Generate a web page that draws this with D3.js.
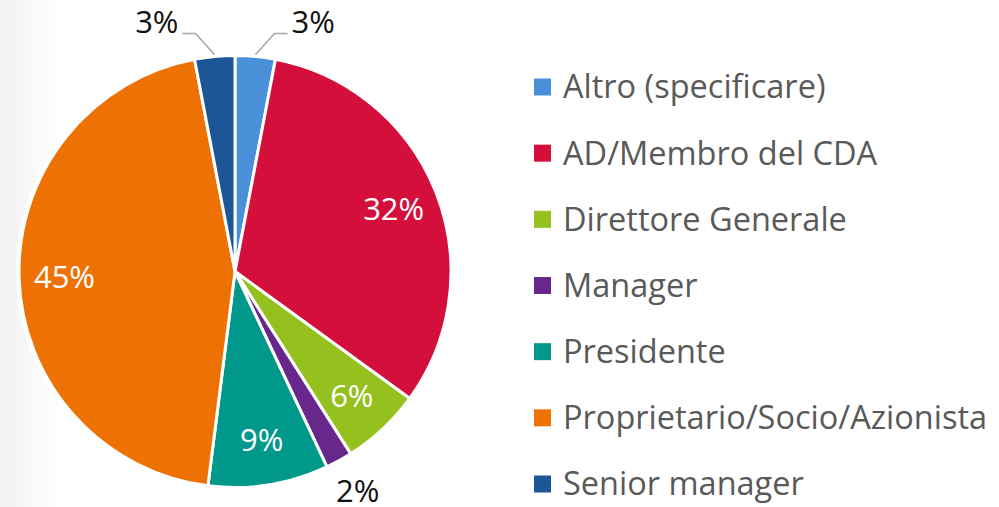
<!DOCTYPE html>
<html>
<head>
<meta charset="utf-8">
<script src="https://cdn.jsdelivr.net/npm/d3@7"></script>
<style>
  body { margin: 0; background: #fff; }
  svg { display: block; }
</style>
</head>
<body>
<div id="chart"></div>
<script>
// data
let categories = ["Altro (specificare)", "AD/Membro del CDA", "Direttore Generale",
                  "Manager", "Presidente", "Proprietario/Socio/Azionista", "Senior manager"];
let values = [3, 32, 6, 2, 9, 45, 3];
let colors = ["#4a90d9", "#d40f3c", "#95c11f", "#68278a", "#00988a", "#ee7203", "#1d5697"];

let width = 999, height = 507;
let cx = 235, cy = 271.5, radius = 216;
let fontFam = "'Open Sans', 'Noto Sans', sans-serif";

let svg = d3.select("#chart").append("svg")
  .attr("width", width)
  .attr("height", height);

// faint slide background on the left edge
let grad = svg.append("defs").append("linearGradient")
  .attr("id", "bg").attr("x1", 0).attr("x2", 1);
grad.append("stop").attr("offset", 0).attr("stop-color", "#f1f1f1");
grad.append("stop").attr("offset", 1).attr("stop-color", "#ffffff");
svg.append("rect").attr("width", 60).attr("height", height).attr("fill", "url(#bg)");

let data = categories.map((c, i) => ({ name: c, value: values[i], color: colors[i] }));

let pie = d3.pie().sort(null).value(d => d.value);
let arcs = pie(data);

let arc = d3.arc().innerRadius(0).outerRadius(radius);
let labelArc = d3.arc().innerRadius(radius * 0.79).outerRadius(radius * 0.79);
let outerArc = d3.arc().innerRadius(radius * 1.18).outerRadius(radius * 1.18);
let edgeArc = d3.arc().innerRadius(radius + 2).outerRadius(radius + 2);

let g = svg.append("g").attr("transform", `translate(${cx},${cy})`);

g.append("circle").attr("r", radius + 3).attr("fill", "#fff");

g.selectAll("path.slice")
  .data(arcs)
  .enter()
  .append("path")
  .attr("class", "slice")
  .attr("d", arc)
  .style("fill", d => d.data.color)
  .style("stroke", "#fff")
  .style("stroke-width", 3)
  .style("stroke-linejoin", "round");

// labels inside large slices
let inside = arcs.filter(d => d.data.value >= 6);
g.selectAll("text.in")
  .data(inside)
  .enter()
  .append("text")
  .attr("class", "in")
  .attr("transform", d => `translate(${labelArc.centroid(d)})`)
  .attr("text-anchor", "middle")
  .attr("dy", "0.35em")
  .style("font-family", fontFam)
  .style("font-size", "31px")
  .style("fill", "#fff")
  .text(d => d.data.value + "%");

// small slice placed just outside (Manager)
let outside = arcs.filter(d => d.data.value < 3);
g.selectAll("text.out")
  .data(outside)
  .enter()
  .append("text")
  .attr("class", "out")
  .attr("transform", d => `translate(${outerArc.centroid(d)})`)
  .attr("text-anchor", "middle")
  .attr("dy", "0.22em")
  .style("font-family", fontFam)
  .style("font-size", "31px")
  .style("fill", "#111")
  .text(d => d.data.value + "%");

// labels with leader lines at the top (3% slices)
let leader = arcs.filter(d => d.data.value === 3);
function leaderPts(d) {
  let p0 = edgeArc.centroid(d);
  let side = p0[0] >= 0 ? 1 : -1;
  let p1 = [p0[0] + side * 19, p0[1] - 21];
  let p2 = [p1[0] + side * 13, p1[1]];
  return [p0, p1, p2, side];
}
g.selectAll("polyline.lead")
  .data(leader)
  .enter()
  .append("polyline")
  .attr("class", "lead")
  .attr("points", d => leaderPts(d).slice(0, 3).map(p => p.join(",")).join(" "))
  .style("fill", "none")
  .style("stroke", "#a6a6a6")
  .style("stroke-width", 1.5);

g.selectAll("text.lead")
  .data(leader)
  .enter()
  .append("text")
  .attr("class", "lead")
  .attr("x", d => { let p = leaderPts(d); return p[2][0] + p[3] * 4; })
  .attr("y", d => leaderPts(d)[2][1] - 11)
  .attr("text-anchor", d => leaderPts(d)[3] > 0 ? "start" : "end")
  .attr("dy", "0.35em")
  .style("font-family", fontFam)
  .style("font-size", "31px")
  .style("fill", "#111")
  .text(d => d.data.value + "%");

// legend
let legendY = d3.scalePoint().domain(categories).range([87, 484]);
let legend = svg.selectAll("g.legend")
  .data(data)
  .enter()
  .append("g")
  .attr("class", "legend")
  .attr("transform", d => `translate(534,${legendY(d.name)})`);

legend.append("rect")
  .attr("y", -8.5)
  .attr("width", 17)
  .attr("height", 17)
  .style("fill", d => d.color);

legend.append("text")
  .attr("x", 29)
  .attr("dy", "0.35em")
  .style("font-family", fontFam)
  .style("font-size", "32.5px")
  .style("fill", "#595959")
  .text(d => d.name);
</script>
</body>
</html>
